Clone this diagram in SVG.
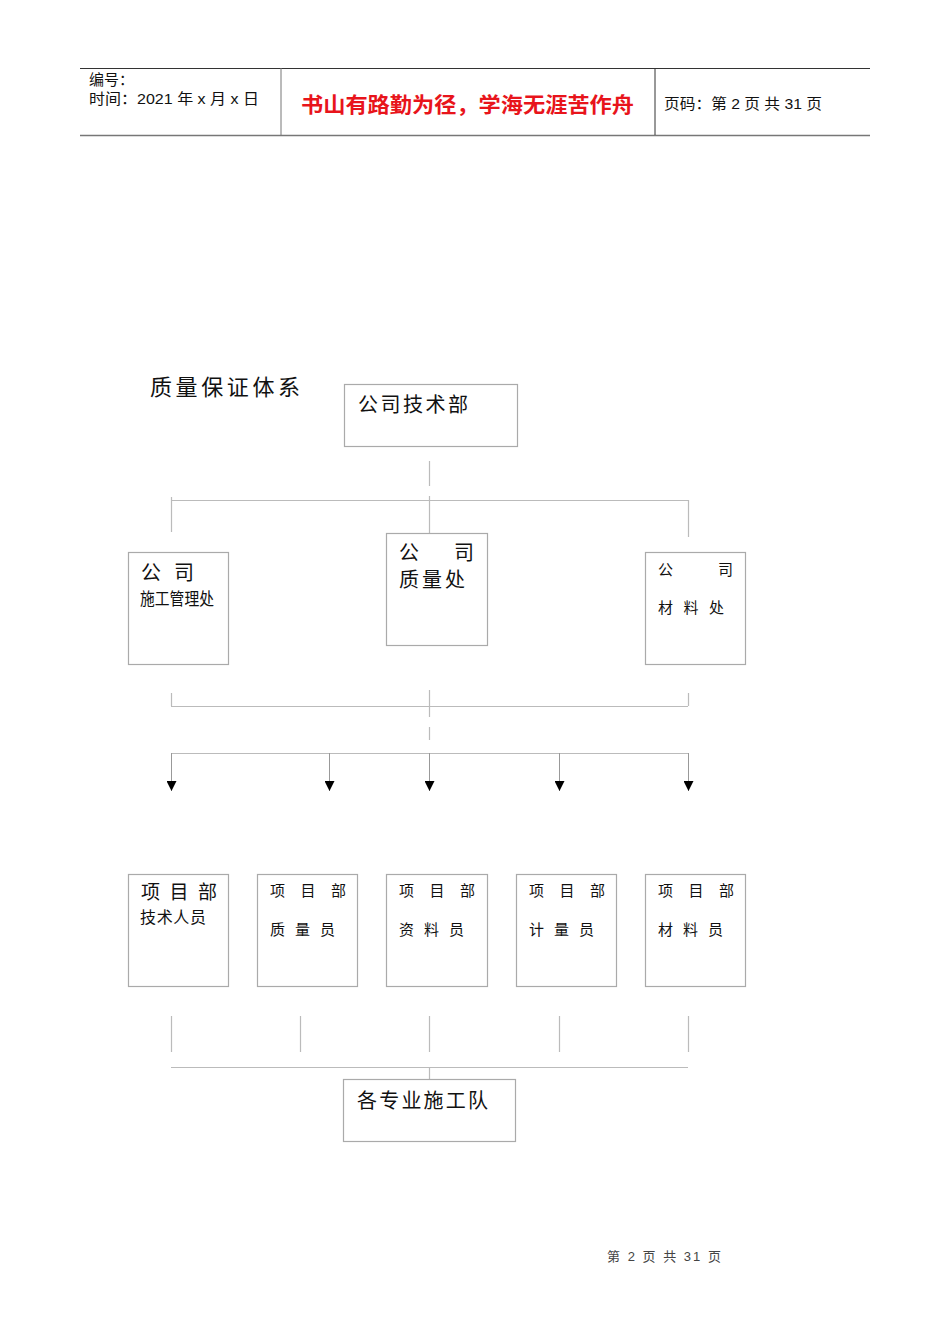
<svg xmlns="http://www.w3.org/2000/svg" width="950" height="1344" viewBox="0 0 950 1344">
<style>
text{font-family:"Liberation Sans","Noto Sans CJK SC",sans-serif;fill:#111}
.cjk{font-family:"Noto Sans CJK SC",sans-serif}
.box{fill:#fff;stroke:#aaa;stroke-width:1.2}
.ln{stroke:#bbb;stroke-width:1.2;fill:none}
.arr{stroke:#999;stroke-width:1;fill:none;marker-end:url(#ah)}
</style>
<defs>
<marker id="ah" markerWidth="10" markerHeight="10" refX="10" refY="5" orient="auto" markerUnits="userSpaceOnUse" viewBox="0 0 10 10">
<path d="M0,0 L10,5 L0,10 Z" fill="#000"/>
</marker>
</defs>
<rect width="950" height="1344" fill="#fff"/>
<g id="header">
<line x1="80" y1="68.5" x2="870" y2="68.5" stroke="#333" stroke-width="1"/>
<line x1="80" y1="135.5" x2="870" y2="135.5" stroke="#777" stroke-width="1.5"/>
<line x1="281" y1="68" x2="281" y2="135" stroke="#777" stroke-width="1"/>
<line x1="655" y1="68" x2="655" y2="135" stroke="#333" stroke-width="1"/>
<text x="89" y="85" font-size="15">编号：</text>
<text x="89" y="104" font-size="15" textLength="170" lengthAdjust="spacingAndGlyphs">时间：2021 年 x 月 x 日</text>
<text x="301" y="112" font-size="21" font-weight="bold" textLength="333" lengthAdjust="spacingAndGlyphs" style="fill:#e8141b" class="cjk">书山有路勤为径，学海无涯苦作舟</text>
<text x="664" y="109" font-size="15" textLength="158" lengthAdjust="spacingAndGlyphs">页码：第 2 页  共 31 页</text>
</g>
<text x="150" y="395" font-size="22" class="cjk" textLength="150" lengthAdjust="spacing">质量保证体系</text>
<g id="connectors">
<line class="ln" x1="429.5" y1="461" x2="429.5" y2="486"/>
<line class="ln" x1="429.5" y1="496" x2="429.5" y2="533"/>
<line class="ln" x1="171" y1="500.5" x2="688" y2="500.5"/>
<line class="ln" x1="171.5" y1="497" x2="171.5" y2="532"/>
<line class="ln" x1="688.5" y1="500" x2="688.5" y2="537"/>
<line class="ln" x1="171.5" y1="693" x2="171.5" y2="706"/>
<line class="ln" x1="688.5" y1="693" x2="688.5" y2="706"/>
<line class="ln" x1="171" y1="706.5" x2="688" y2="706.5"/>
<line class="ln" x1="429.5" y1="690" x2="429.5" y2="717"/>
<line class="ln" x1="429.5" y1="727" x2="429.5" y2="740"/>
<line class="ln" x1="171" y1="753.5" x2="688" y2="753.5"/>
<line class="arr" x1="171.5" y1="753" x2="171.5" y2="791"/>
<line class="arr" x1="329.5" y1="753" x2="329.5" y2="791"/>
<line class="arr" x1="429.5" y1="753" x2="429.5" y2="791"/>
<line class="arr" x1="559.5" y1="753" x2="559.5" y2="791"/>
<line class="arr" x1="688.5" y1="753" x2="688.5" y2="791"/>
<line class="ln" x1="171.5" y1="1016" x2="171.5" y2="1052"/>
<line class="ln" x1="300.5" y1="1016" x2="300.5" y2="1052"/>
<line class="ln" x1="429.5" y1="1016" x2="429.5" y2="1052"/>
<line class="ln" x1="559.5" y1="1016" x2="559.5" y2="1052"/>
<line class="ln" x1="688.5" y1="1016" x2="688.5" y2="1052"/>
<line class="ln" x1="171" y1="1067.5" x2="688" y2="1067.5"/>
<line class="ln" x1="429.5" y1="1067" x2="429.5" y2="1079"/>
</g>
<g id="n-tech">
<rect class="box" x="344.5" y="384.5" width="173" height="62"/>
<text x="358" y="412" font-size="20" class="cjk" textLength="110" lengthAdjust="spacing">公司技术部</text>
</g>
<g id="n-construct">
<rect class="box" x="128.5" y="552.5" width="100" height="112"/>
<text x="141" y="580" font-size="20" class="cjk" textLength="53" lengthAdjust="spacing">公 司</text>
<text x="140" y="605" font-size="17" class="cjk" textLength="74" lengthAdjust="spacingAndGlyphs">施工管理处</text>
</g>
<g id="n-quality">
<rect class="box" x="386.5" y="533.5" width="101" height="112"/>
<text x="399" y="560" font-size="20" class="cjk">公</text>
<text x="454" y="560" font-size="20" class="cjk">司</text>
<text x="399" y="587" font-size="20" class="cjk" textLength="66" lengthAdjust="spacing">质量处</text>
</g>
<g id="n-material">
<rect class="box" x="645.5" y="552.5" width="100" height="112"/>
<text x="658" y="575" font-size="15" class="cjk">公</text>
<text x="718" y="575" font-size="15" class="cjk">司</text>
<text x="658" y="613" font-size="15" class="cjk" textLength="66" lengthAdjust="spacing">材 料 处</text>
</g>
<g id="n-p1">
<rect class="box" x="128.5" y="874.5" width="100" height="112"/>
<text x="141" y="899" font-size="19" class="cjk" textLength="76" lengthAdjust="spacing">项 目 部</text>
<text x="140" y="923" font-size="16" class="cjk" textLength="66" lengthAdjust="spacing">技术人员</text>
</g>
<g id="n-p2">
<rect class="box" x="257.5" y="874.5" width="100" height="112"/>
<text x="270" y="896" font-size="15" class="cjk" textLength="76" lengthAdjust="spacing">项 目 部</text>
<text x="270" y="935" font-size="15" class="cjk" textLength="65" lengthAdjust="spacing">质 量 员</text>
</g>
<g id="n-p3">
<rect class="box" x="386.5" y="874.5" width="101" height="112"/>
<text x="399" y="896" font-size="15" class="cjk" textLength="76" lengthAdjust="spacing">项 目 部</text>
<text x="399" y="935" font-size="15" class="cjk" textLength="65" lengthAdjust="spacing">资 料 员</text>
</g>
<g id="n-p4">
<rect class="box" x="516.5" y="874.5" width="100" height="112"/>
<text x="529" y="896" font-size="15" class="cjk" textLength="76" lengthAdjust="spacing">项 目 部</text>
<text x="529" y="935" font-size="15" class="cjk" textLength="65" lengthAdjust="spacing">计 量 员</text>
</g>
<g id="n-p5">
<rect class="box" x="645.5" y="874.5" width="100" height="112"/>
<text x="658" y="896" font-size="15" class="cjk" textLength="76" lengthAdjust="spacing">项 目 部</text>
<text x="658" y="935" font-size="15" class="cjk" textLength="65" lengthAdjust="spacing">材 料 员</text>
</g>
<g id="n-teams">
<rect class="box" x="343.5" y="1079.5" width="172" height="62"/>
<text x="357" y="1108" font-size="20" class="cjk" textLength="131" lengthAdjust="spacing">各专业施工队</text>
</g>
<text x="607" y="1261" font-size="13" style="fill:#444" textLength="114" lengthAdjust="spacing">第 2 页 共 31 页</text>
</svg>
